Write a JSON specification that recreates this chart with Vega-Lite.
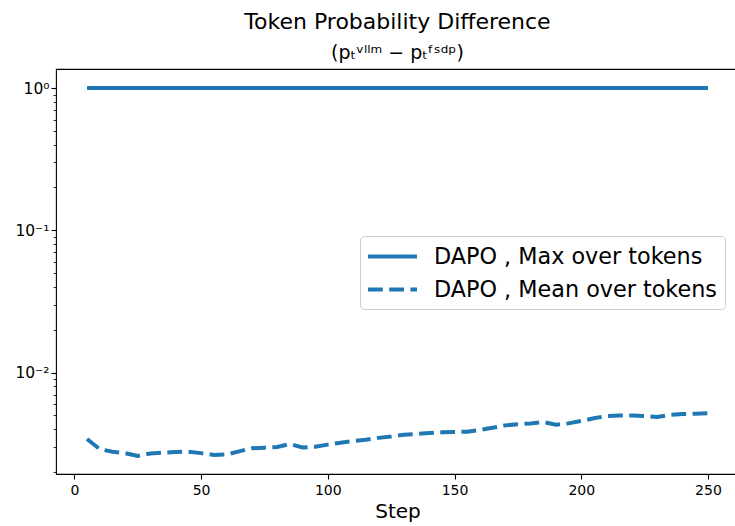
{
  "$schema": "https://vega.github.io/schema/vega-lite/v6.json",
  "autosize": "none",
  "padding": {"left": 56, "top": 69, "right": 0, "bottom": 52},
  "width": 683,
  "height": 405,
  "background": "white",
  "config": {
    "font": "DejaVu Sans",
    "view": {"stroke": "black", "strokeWidth": 1.1}
  },
  "title": {
    "text": "Token Probability Difference",
    "subtitle": "(pₜᵛˡˡᵐ − pₜᶠˢᵈᵖ)",
    "font": "DejaVu Sans",
    "subtitleFont": "DejaVu Sans",
    "fontSize": 22,
    "subtitleFontSize": 19,
    "fontWeight": "normal",
    "color": "black",
    "subtitleColor": "black",
    "anchor": "middle",
    "offset": 5,
    "subtitlePadding": 10
  },
  "data": {
    "values": [
      {"step": 5, "series": "DAPO , Max over tokens", "value": 1.0},
      {"step": 10, "series": "DAPO , Max over tokens", "value": 1.0},
      {"step": 15, "series": "DAPO , Max over tokens", "value": 1.0},
      {"step": 20, "series": "DAPO , Max over tokens", "value": 1.0},
      {"step": 25, "series": "DAPO , Max over tokens", "value": 1.0},
      {"step": 30, "series": "DAPO , Max over tokens", "value": 1.0},
      {"step": 35, "series": "DAPO , Max over tokens", "value": 1.0},
      {"step": 40, "series": "DAPO , Max over tokens", "value": 1.0},
      {"step": 45, "series": "DAPO , Max over tokens", "value": 1.0},
      {"step": 50, "series": "DAPO , Max over tokens", "value": 1.0},
      {"step": 55, "series": "DAPO , Max over tokens", "value": 1.0},
      {"step": 60, "series": "DAPO , Max over tokens", "value": 1.0},
      {"step": 65, "series": "DAPO , Max over tokens", "value": 1.0},
      {"step": 70, "series": "DAPO , Max over tokens", "value": 1.0},
      {"step": 75, "series": "DAPO , Max over tokens", "value": 1.0},
      {"step": 80, "series": "DAPO , Max over tokens", "value": 1.0},
      {"step": 85, "series": "DAPO , Max over tokens", "value": 1.0},
      {"step": 90, "series": "DAPO , Max over tokens", "value": 1.0},
      {"step": 95, "series": "DAPO , Max over tokens", "value": 1.0},
      {"step": 100, "series": "DAPO , Max over tokens", "value": 1.0},
      {"step": 105, "series": "DAPO , Max over tokens", "value": 1.0},
      {"step": 110, "series": "DAPO , Max over tokens", "value": 1.0},
      {"step": 115, "series": "DAPO , Max over tokens", "value": 1.0},
      {"step": 120, "series": "DAPO , Max over tokens", "value": 1.0},
      {"step": 125, "series": "DAPO , Max over tokens", "value": 1.0},
      {"step": 130, "series": "DAPO , Max over tokens", "value": 1.0},
      {"step": 135, "series": "DAPO , Max over tokens", "value": 1.0},
      {"step": 140, "series": "DAPO , Max over tokens", "value": 1.0},
      {"step": 145, "series": "DAPO , Max over tokens", "value": 1.0},
      {"step": 150, "series": "DAPO , Max over tokens", "value": 1.0},
      {"step": 155, "series": "DAPO , Max over tokens", "value": 1.0},
      {"step": 160, "series": "DAPO , Max over tokens", "value": 1.0},
      {"step": 165, "series": "DAPO , Max over tokens", "value": 1.0},
      {"step": 170, "series": "DAPO , Max over tokens", "value": 1.0},
      {"step": 175, "series": "DAPO , Max over tokens", "value": 1.0},
      {"step": 180, "series": "DAPO , Max over tokens", "value": 1.0},
      {"step": 185, "series": "DAPO , Max over tokens", "value": 1.0},
      {"step": 190, "series": "DAPO , Max over tokens", "value": 1.0},
      {"step": 195, "series": "DAPO , Max over tokens", "value": 1.0},
      {"step": 200, "series": "DAPO , Max over tokens", "value": 1.0},
      {"step": 205, "series": "DAPO , Max over tokens", "value": 1.0},
      {"step": 210, "series": "DAPO , Max over tokens", "value": 1.0},
      {"step": 215, "series": "DAPO , Max over tokens", "value": 1.0},
      {"step": 220, "series": "DAPO , Max over tokens", "value": 1.0},
      {"step": 225, "series": "DAPO , Max over tokens", "value": 1.0},
      {"step": 230, "series": "DAPO , Max over tokens", "value": 1.0},
      {"step": 235, "series": "DAPO , Max over tokens", "value": 1.0},
      {"step": 240, "series": "DAPO , Max over tokens", "value": 1.0},
      {"step": 245, "series": "DAPO , Max over tokens", "value": 1.0},
      {"step": 250, "series": "DAPO , Max over tokens", "value": 1.0},
      {"step": 5, "series": "DAPO , Mean over tokens", "value": 0.00342},
      {"step": 10, "series": "DAPO , Mean over tokens", "value": 0.00290},
      {"step": 15, "series": "DAPO , Mean over tokens", "value": 0.00278},
      {"step": 20, "series": "DAPO , Mean over tokens", "value": 0.00272},
      {"step": 25, "series": "DAPO , Mean over tokens", "value": 0.00260},
      {"step": 30, "series": "DAPO , Mean over tokens", "value": 0.00270},
      {"step": 35, "series": "DAPO , Mean over tokens", "value": 0.00274},
      {"step": 40, "series": "DAPO , Mean over tokens", "value": 0.00277},
      {"step": 45, "series": "DAPO , Mean over tokens", "value": 0.00278},
      {"step": 50, "series": "DAPO , Mean over tokens", "value": 0.00272},
      {"step": 55, "series": "DAPO , Mean over tokens", "value": 0.00264},
      {"step": 60, "series": "DAPO , Mean over tokens", "value": 0.00266},
      {"step": 65, "series": "DAPO , Mean over tokens", "value": 0.00280},
      {"step": 70, "series": "DAPO , Mean over tokens", "value": 0.00294},
      {"step": 75, "series": "DAPO , Mean over tokens", "value": 0.00297},
      {"step": 80, "series": "DAPO , Mean over tokens", "value": 0.00300},
      {"step": 85, "series": "DAPO , Mean over tokens", "value": 0.00315},
      {"step": 90, "series": "DAPO , Mean over tokens", "value": 0.00298},
      {"step": 95, "series": "DAPO , Mean over tokens", "value": 0.00302},
      {"step": 100, "series": "DAPO , Mean over tokens", "value": 0.00312},
      {"step": 105, "series": "DAPO , Mean over tokens", "value": 0.00322},
      {"step": 110, "series": "DAPO , Mean over tokens", "value": 0.00330},
      {"step": 115, "series": "DAPO , Mean over tokens", "value": 0.00338},
      {"step": 120, "series": "DAPO , Mean over tokens", "value": 0.00348},
      {"step": 125, "series": "DAPO , Mean over tokens", "value": 0.00356},
      {"step": 130, "series": "DAPO , Mean over tokens", "value": 0.00366},
      {"step": 135, "series": "DAPO , Mean over tokens", "value": 0.00371},
      {"step": 140, "series": "DAPO , Mean over tokens", "value": 0.00376},
      {"step": 145, "series": "DAPO , Mean over tokens", "value": 0.00381},
      {"step": 150, "series": "DAPO , Mean over tokens", "value": 0.00383},
      {"step": 155, "series": "DAPO , Mean over tokens", "value": 0.00384},
      {"step": 160, "series": "DAPO , Mean over tokens", "value": 0.00395},
      {"step": 165, "series": "DAPO , Mean over tokens", "value": 0.00410},
      {"step": 170, "series": "DAPO , Mean over tokens", "value": 0.00426},
      {"step": 175, "series": "DAPO , Mean over tokens", "value": 0.00434},
      {"step": 180, "series": "DAPO , Mean over tokens", "value": 0.00440},
      {"step": 185, "series": "DAPO , Mean over tokens", "value": 0.00450},
      {"step": 190, "series": "DAPO , Mean over tokens", "value": 0.00430},
      {"step": 195, "series": "DAPO , Mean over tokens", "value": 0.00440},
      {"step": 200, "series": "DAPO , Mean over tokens", "value": 0.00458},
      {"step": 205, "series": "DAPO , Mean over tokens", "value": 0.00478},
      {"step": 210, "series": "DAPO , Mean over tokens", "value": 0.00496},
      {"step": 215, "series": "DAPO , Mean over tokens", "value": 0.00500},
      {"step": 220, "series": "DAPO , Mean over tokens", "value": 0.00500},
      {"step": 225, "series": "DAPO , Mean over tokens", "value": 0.00496},
      {"step": 230, "series": "DAPO , Mean over tokens", "value": 0.00488},
      {"step": 235, "series": "DAPO , Mean over tokens", "value": 0.00505},
      {"step": 240, "series": "DAPO , Mean over tokens", "value": 0.00512},
      {"step": 245, "series": "DAPO , Mean over tokens", "value": 0.00515},
      {"step": 250, "series": "DAPO , Mean over tokens", "value": 0.00518}
    ]
  },
  "mark": {"type": "line", "color": "#1f77b4", "strokeWidth": 4, "strokeCap": "butt", "clip": true},
  "encoding": {
    "x": {
      "field": "step",
      "type": "quantitative",
      "scale": {"domain": [-7.25, 262.25], "nice": false, "zero": false},
      "axis": {
        "title": "Step",
        "values": [0, 50, 100, 150, 200, 250],
        "grid": false,
        "domain": false,
        "tickColor": "black",
        "tickSize": 5,
        "tickWidth": 1.1,
        "labelFontSize": 14,
        "labelColor": "black",
        "labelPadding": 4,
        "titleFontSize": 20,
        "titleFontWeight": "normal",
        "titleColor": "black",
        "titlePadding": 4
      }
    },
    "y": {
      "field": "value",
      "type": "quantitative",
      "scale": {"type": "log", "domain": [0.00194, 1.36], "nice": false, "zero": false},
      "axis": {
        "title": null,
        "grid": false,
        "domain": false,
        "values": [0.002, 0.003, 0.004, 0.005, 0.006, 0.007, 0.008, 0.009, 0.01, 0.02, 0.03, 0.04, 0.05, 0.06, 0.07, 0.08, 0.09, 0.1, 0.2, 0.3, 0.4, 0.5, 0.6, 0.7, 0.8, 0.9, 1],
        "labelExpr": "abs(log(datum.value)/LN10 - round(log(datum.value)/LN10)) < 0.001 ? (round(log(datum.value)/LN10) == 0 ? '10⁰' : (round(log(datum.value)/LN10) == -1 ? '10⁻¹' : '10⁻²')) : ''",
        "tickColor": "black",
        "tickSize": {"condition": {"test": "abs(log(datum.value)/LN10 - round(log(datum.value)/LN10)) < 0.001", "value": 5}, "value": 3},
        "tickWidth": {"condition": {"test": "abs(log(datum.value)/LN10 - round(log(datum.value)/LN10)) < 0.001", "value": 1.1}, "value": 0.8},
        "labelFontSize": 15.5,
        "labelColor": "black",
        "labelPadding": 2,
        "labelOverlap": false
      }
    },
    "strokeDash": {
      "field": "series",
      "type": "nominal",
      "scale": {"domain": ["DAPO , Max over tokens", "DAPO , Mean over tokens"], "range": [[1, 0], [14.8, 6.4]]},
      "legend": {
        "title": null,
        "orient": "none",
        "legendX": 304,
        "legendY": 167,
        "symbolType": "M-1.19,0H3.476",
        "symbolSize": 441,
        "symbolStrokeWidth": 4,
        "symbolStrokeColor": "#1f77b4",
        "symbolFillColor": "transparent",
        "labelFontSize": 22.3,
        "labelColor": "black",
        "labelLimit": 0,
        "labelOffset": 41,
        "rowPadding": 9,
        "padding": 8,
        "fillColor": "white",
        "strokeColor": "#cccccc",
        "cornerRadius": 4
      }
    }
  }
}
